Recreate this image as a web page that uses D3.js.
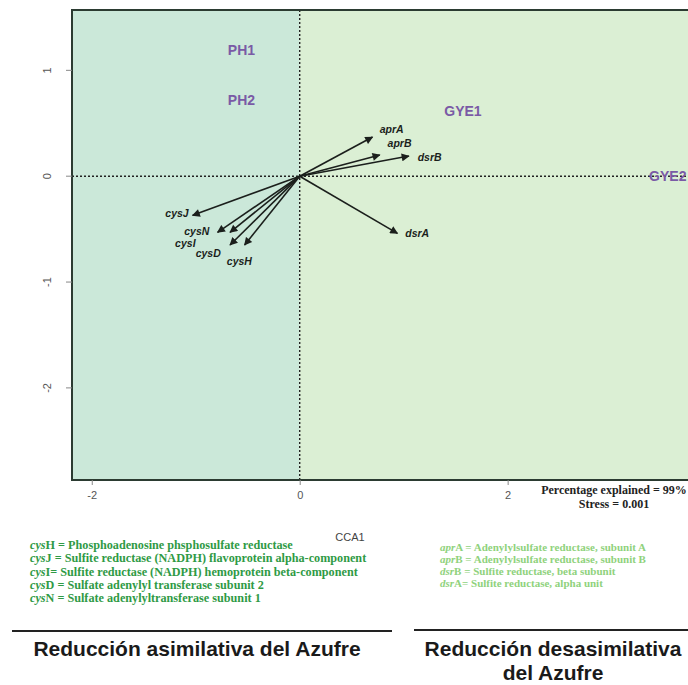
<!DOCTYPE html>
<html>
<head>
<meta charset="utf-8">
<script src="https://cdn.jsdelivr.net/npm/d3@7"></script>
<style>
  body { margin: 0; background: #fff; }
  svg { display: block; }
</style>
</head>
<body>
<div id="chart"></div>
<script>
// gene vectors (CCA1, CCA2)
var genes = ["aprA", "aprB", "dsrB", "dsrA", "cysJ", "cysN", "cysI", "cysD", "cysH"];
var geneX = [0.70, 0.77, 1.05, 0.94, -1.03, -0.79, -0.67, -0.67, -0.53];
var geneY = [0.37, 0.20, 0.19, -0.54, -0.37, -0.53, -0.53, -0.65, -0.65];
// where the gene names sit
var geneLabX = [0.885, 0.96, 1.25, 1.13, -1.18, -0.99, -1.10, -0.88, -0.58];
var geneLabY = [0.45, 0.31, 0.18, -0.54, -0.35, -0.515, -0.635, -0.73, -0.80];

// sites
var sites = ["PH1", "PH2", "GYE1", "GYE2"];
var siteX = [-0.56, -0.56, 1.57, 3.54];
var siteY = [1.19, 0.72, 0.62, 0.0];

var xTicks = [-2, 0, 2];
var yTicks = [1, 0, -1, -2];

var leftNotes = [
  ["cys", "H = Phosphoadenosine phsphosulfate reductase"],
  ["cys", "J = Sulfite reductase (NADPH) flavoprotein alpha-component"],
  ["cys", "I= Sulfite reductase (NADPH) hemoprotein beta-component"],
  ["cys", "D = Sulfate adenylyl transferase subunit 2"],
  ["cys", "N = Sulfate adenylyltransferase subunit 1"]
];
var rightNotes = [
  ["apr", "A = Adenylylsulfate reductase, subunit A"],
  ["apr", "B = Adenylylsulfate reductase, subunit B"],
  ["dsr", "B = Sulfite reductase, beta subunit"],
  ["dsr", "A= Sulfite reductase, alpha unit"]
];

var W = 688, H = 685;
var plot = {left: 72, top: 10, right: 700, bottom: 480};

var x = d3.scaleLinear().domain([-2.19, 3.85]).range([plot.left, plot.right]);
var y = d3.scaleLinear().domain([-2.87, 1.57]).range([plot.bottom, plot.top]);

var svg = d3.select("#chart").append("svg")
  .attr("width", W)
  .attr("height", H);

svg.append("defs").append("marker")
  .attr("id", "head")
  .attr("viewBox", "0 0 10 10")
  .attr("refX", 9)
  .attr("refY", 5)
  .attr("markerWidth", 9)
  .attr("markerHeight", 8)
  .attr("markerUnits", "userSpaceOnUse")
  .attr("orient", "auto")
  .append("path")
  .attr("d", "M0,0 L10,5 L0,10 Z")
  .attr("fill", "#1b1f1c");

// background halves
svg.append("rect")
  .attr("x", x(-2.19)).attr("y", plot.top)
  .attr("width", x(0) - x(-2.19)).attr("height", plot.bottom - plot.top)
  .attr("fill", "#cbe8d9");
svg.append("rect")
  .attr("x", x(0)).attr("y", plot.top)
  .attr("width", x(3.85) - x(0)).attr("height", plot.bottom - plot.top)
  .attr("fill", "#dbefd4");

// zero lines
svg.append("line")
  .attr("x1", x(0)).attr("x2", x(0))
  .attr("y1", plot.top).attr("y2", plot.bottom)
  .attr("stroke", "#222").attr("stroke-width", 1.4)
  .attr("stroke-dasharray", "2,2");
svg.append("line")
  .attr("x1", plot.left).attr("x2", plot.right)
  .attr("y1", y(0)).attr("y2", y(0))
  .attr("stroke", "#222").attr("stroke-width", 1.4)
  .attr("stroke-dasharray", "2,2");

// frame
svg.append("rect")
  .attr("x", plot.left).attr("y", plot.top)
  .attr("width", plot.right - plot.left).attr("height", plot.bottom - plot.top)
  .attr("fill", "none")
  .attr("stroke", "#2b3b31").attr("stroke-width", 2);

// axes (plain hyphen minus, like R)
var plain = function(d) { return String(d); };

var xAxis = d3.axisBottom(x).tickValues(xTicks).tickFormat(plain)
  .tickSize(5).tickPadding(6);
var gx = svg.append("g")
  .attr("transform", "translate(0," + plot.bottom + ")")
  .call(xAxis);
gx.select(".domain").remove();
gx.selectAll("line").attr("stroke", "#888");
gx.selectAll("text")
  .attr("font-family", "Liberation Sans, Arial, sans-serif")
  .attr("font-size", 11).attr("fill", "#555");

var yAxis = d3.axisLeft(y).tickValues(yTicks).tickFormat(plain)
  .tickSize(6).tickPadding(0);
var gy = svg.append("g")
  .attr("transform", "translate(" + plot.left + ",0)")
  .call(yAxis);
gy.select(".domain").remove();
gy.selectAll("line").attr("stroke", "#888");
gy.selectAll(".tick").attr("transform", null);
gy.selectAll(".tick line")
  .attr("y1", function(d) { return y(d); })
  .attr("y2", function(d) { return y(d); });
gy.selectAll("text")
  .attr("font-family", "Liberation Sans, Arial, sans-serif")
  .attr("font-size", 11).attr("fill", "#555")
  .attr("x", 0).attr("y", 0).attr("dy", 0)
  .attr("text-anchor", "middle")
  .attr("transform", function(d) { return "translate(-21," + y(d) + ") rotate(-90)"; });

svg.append("text")
  .attr("x", 350).attr("y", 541)
  .attr("text-anchor", "middle")
  .attr("font-family", "Liberation Sans, Arial, sans-serif")
  .attr("font-size", 11).attr("fill", "#444")
  .text("CCA1");

// arrows
svg.selectAll(".arrow")
  .data(genes)
  .enter().append("line")
  .attr("class", "arrow")
  .attr("x1", x(0)).attr("y1", y(0))
  .attr("x2", function(d, i) { return x(geneX[i]); })
  .attr("y2", function(d, i) { return y(geneY[i]); })
  .attr("stroke", "#1b1f1c").attr("stroke-width", 1.6)
  .attr("marker-end", "url(#head)");

svg.selectAll(".glab")
  .data(genes)
  .enter().append("text")
  .attr("class", "glab")
  .attr("x", function(d, i) { return x(geneLabX[i]); })
  .attr("y", function(d, i) { return y(geneLabY[i]); })
  .attr("text-anchor", "middle")
  .attr("dominant-baseline", "central")
  .attr("font-family", "Liberation Sans, Arial, sans-serif")
  .attr("font-size", 10.5).attr("font-weight", "bold").attr("font-style", "italic")
  .attr("fill", "#1b1f1c")
  .text(function(d) { return d; });

svg.selectAll(".slab")
  .data(sites)
  .enter().append("text")
  .attr("class", "slab")
  .attr("x", function(d, i) { return x(siteX[i]); })
  .attr("y", function(d, i) { return y(siteY[i]); })
  .attr("text-anchor", "middle")
  .attr("dominant-baseline", "central")
  .attr("font-family", "Liberation Sans, Arial, sans-serif")
  .attr("font-size", 14).attr("font-weight", "bold")
  .attr("fill", "#7a5aa6")
  .text(function(d) { return d; });

// stats
svg.append("text")
  .attr("x", 614).attr("y", 494)
  .attr("text-anchor", "middle")
  .attr("font-family", "Liberation Serif, Times New Roman, serif")
  .attr("font-size", 12).attr("font-weight", "bold").attr("fill", "#222")
  .text("Percentage explained = 99%");
svg.append("text")
  .attr("x", 614).attr("y", 508)
  .attr("text-anchor", "middle")
  .attr("font-family", "Liberation Serif, Times New Roman, serif")
  .attr("font-size", 12).attr("font-weight", "bold").attr("fill", "#222")
  .text("Stress = 0.001");

// gene notes
function notes(list, x0, y0, step, size, color) {
  var t = svg.selectAll(null)
    .data(list)
    .enter().append("text")
    .attr("x", x0)
    .attr("y", function(d, i) { return y0 + i * step; })
    .attr("font-family", "Liberation Serif, Times New Roman, serif")
    .attr("font-size", size).attr("font-weight", "bold")
    .attr("fill", color);
  t.append("tspan").attr("font-style", "italic").text(function(d) { return d[0]; });
  t.append("tspan").text(function(d) { return d[1]; });
}
notes(leftNotes, 30, 549, 13.3, 12.2, "#2f9a45");
notes(rightNotes, 440, 551, 12, 11, "#8fd27c");

// section rules and headings
svg.append("line")
  .attr("x1", 12).attr("x2", 392).attr("y1", 631).attr("y2", 631)
  .attr("stroke", "#222").attr("stroke-width", 2.2);
svg.append("line")
  .attr("x1", 414).attr("x2", 688).attr("y1", 630).attr("y2", 630)
  .attr("stroke", "#222").attr("stroke-width", 2.2);

var head = {family: "Liberation Sans, Arial, sans-serif", size: 21};
svg.append("text")
  .attr("x", 197).attr("y", 656)
  .attr("text-anchor", "middle")
  .attr("font-family", head.family).attr("font-size", head.size)
  .attr("font-weight", "bold").attr("fill", "#1a1a1a")
  .text("Reducción asimilativa del Azufre");
svg.append("text")
  .attr("x", 553).attr("y", 656)
  .attr("text-anchor", "middle")
  .attr("font-family", head.family).attr("font-size", head.size)
  .attr("font-weight", "bold").attr("fill", "#1a1a1a")
  .text("Reducción desasimilativa");
svg.append("text")
  .attr("x", 553).attr("y", 680)
  .attr("text-anchor", "middle")
  .attr("font-family", head.family).attr("font-size", head.size)
  .attr("font-weight", "bold").attr("fill", "#1a1a1a")
  .text("del Azufre");
</script>
</body>
</html>
